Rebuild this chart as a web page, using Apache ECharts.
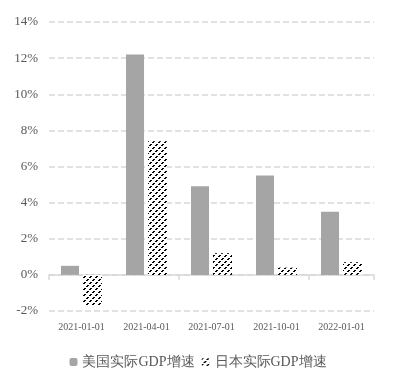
<!DOCTYPE html>
<html>
<head>
<meta charset="utf-8">
<script src="https://cdn.jsdelivr.net/npm/echarts@6/dist/echarts.min.js"></script>
<style>
html,body{margin:0;padding:0;background:#fff;}
#c{width:396px;height:386px;}
</style>
</head>
<body>
<div id="c"></div>
<script>
const categories = ['2021-01-01','2021-04-01','2021-07-01','2021-10-01','2022-01-01'];
const usGrowth = [0.5, 12.2, 4.9, 5.5, 3.5];
const jpGrowth = [-1.7, 7.4, 1.2, 0.4, 0.7];
const seriesNames = ['美国实际GDP增速', '日本实际GDP增速'];
const yTicks = {min: -2, max: 14, interval: 2};

function makeHatch() {
  const size = 6;
  const cv = document.createElement('canvas');
  cv.width = size; cv.height = size;
  const ctx = cv.getContext('2d');
  ctx.fillStyle = '#fff';
  ctx.fillRect(0, 0, size, size);
  ctx.fillStyle = '#000';
  for (let y = 0; y < size; y++) {
    for (let x = 0; x < size; x++) {
      const d = (x + y) % 6;
      if ((d === 0 || d === 1) && (y % 3) < 2) ctx.fillRect(x, y, 1, 1);
    }
  }
  return cv;
}

const font = '"Liberation Serif", "Times New Roman", serif';
const txt = '#595959';
const chart = echarts.init(document.getElementById('c'), null, {renderer: 'canvas'});
const hatch = {image: makeHatch(), repeat: 'repeat'};

chart.setOption({
  animation: false,
  textStyle: {fontFamily: font},
  grid: {left: 49, right: 22, top: 22, bottom: 75},
  legend: {
    left: 'center', top: 350,
    itemWidth: 8, itemHeight: 8, itemGap: 7,
    textStyle: {fontFamily: font, fontSize: 14, color: txt},
    data: seriesNames
  },
  xAxis: [
    {
      type: 'category', data: categories, position: 'bottom',
      axisLine: {show: false, onZero: false},
      axisTick: {show: false},
      axisLabel: {fontFamily: font, fontSize: 10, color: txt, margin: 11, interval: 0}
    },
    {
      type: 'category', data: categories, position: 'bottom',
      axisLine: {show: true, onZero: true, lineStyle: {color: '#d9d9d9', width: 1.5}},
      axisTick: {show: true, length: 5, lineStyle: {color: '#d9d9d9', width: 1.5}},
      axisLabel: {show: false}
    }
  ],
  yAxis: {
    type: 'value', min: yTicks.min, max: yTicks.max, interval: yTicks.interval,
    axisLine: {show: false}, axisTick: {show: false},
    axisLabel: {formatter: '{value}%', fontFamily: font, fontSize: 13, color: txt, margin: 11},
    splitLine: {lineStyle: {color: '#d9d9d9', width: 1.5, type: [6, 3]}}
  },
  series: [
    {
      name: seriesNames[0], type: 'bar', xAxisIndex: 0, data: usGrowth,
      barWidth: 18, barGap: '22%',
      itemStyle: {color: '#a5a5a5'}
    },
    {
      name: seriesNames[1], type: 'bar', xAxisIndex: 0, data: jpGrowth,
      barWidth: 19, barGap: '22%',
      itemStyle: {color: hatch}
    }
  ]
});
</script>
</body>
</html>
